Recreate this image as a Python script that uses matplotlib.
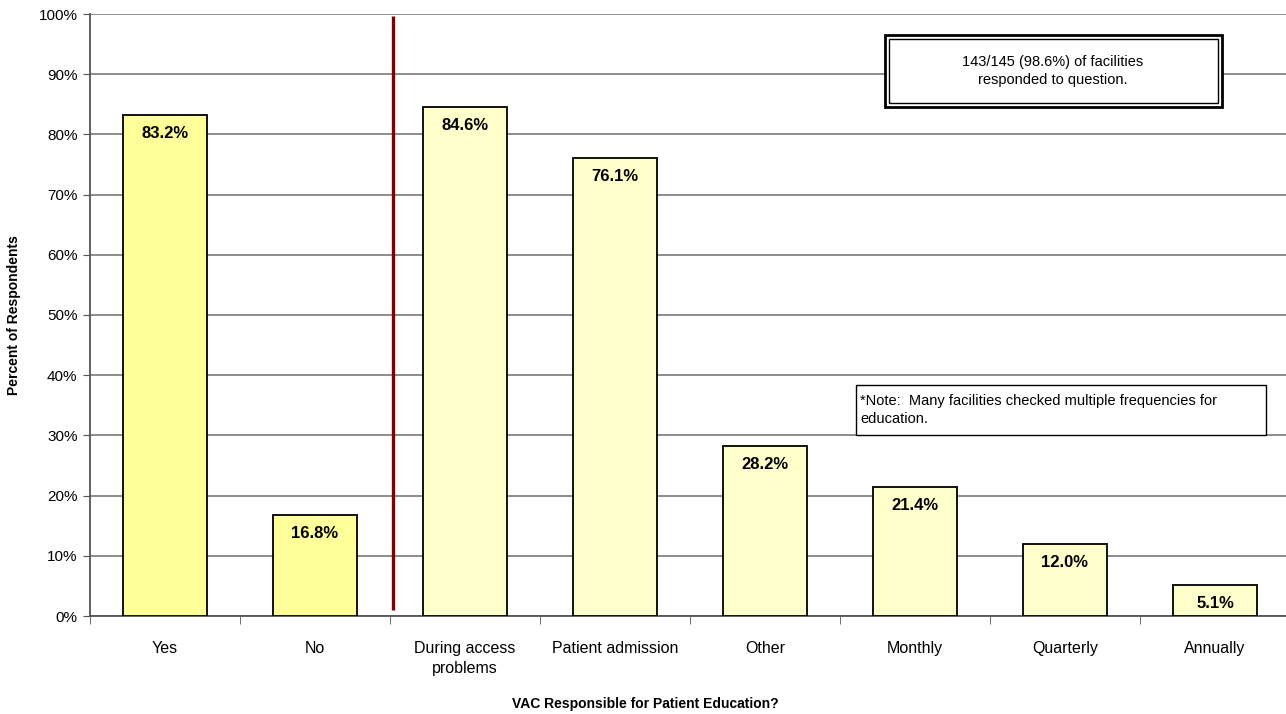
import numpy as np
import matplotlib.pyplot as plt
from matplotlib.patches import Rectangle
from matplotlib.ticker import FuncFormatter

# data
categories = ['Yes', 'No', 'During access\nproblems', 'Patient admission',
              'Other', 'Monthly', 'Quarterly', 'Annually']
values = [83.2, 16.8, 84.6, 76.1, 28.2, 21.4, 12.0, 5.1]
bar_colors = ['#FFFF99', '#FFFF99', '#FFFFCC', '#FFFFCC',
              '#FFFFCC', '#FFFFCC', '#FFFFCC', '#FFFFCC']

plt.rcParams['font.family'] = ['Liberation Sans', 'DejaVu Sans']

W, H = 1286, 714
fig = plt.figure(figsize=(W / 100, H / 100), dpi=100)
ax = fig.add_axes([90 / W, (H - 616) / H, 1200 / W, 602 / H])

x = np.arange(len(categories))
ax.bar(x, values, width=0.56, color=bar_colors, edgecolor='black',
       linewidth=1.3, zorder=3)

for xi, v in zip(x, values):
    ax.annotate('%.1f%%' % v, (xi, v), xytext=(0, -8), textcoords='offset points',
                ha='center', va='top', fontsize=12, fontweight='bold', zorder=4)

# separator between the two questions
ax.plot([1.52, 1.52], [1.0, 99.7], color='#800000', lw=2.4, zorder=5,
        solid_capstyle='butt')

ax.set_xlim(-0.5, 7.5)
ax.set_ylim(0, 100)
ax.set_yticks(np.arange(0, 101, 10))
ax.yaxis.set_major_formatter(FuncFormatter(lambda v, p: '%d%%' % v))
ax.yaxis.grid(True, color='#6e6e6e', lw=1.1, zorder=0)
ax.tick_params(axis='y', labelsize=11, length=5, color='#555555', pad=4)

ax.set_xticks(x)
ax.set_xticklabels(categories, fontsize=11.5, linespacing=1.4)
ax.tick_params(axis='x', which='major', length=0, pad=18)
ax.set_xticks(np.arange(-0.5, 7.6, 1), minor=True)
ax.tick_params(axis='x', which='minor', length=6, color='#555555')

for s in ['top', 'right']:
    ax.spines[s].set_visible(False)
ax.spines['left'].set_color('#555555')
ax.spines['bottom'].set_color('#555555')
ax.spines['left'].set_linewidth(1.3)
ax.spines['bottom'].set_linewidth(1.3)

fig.text(14 / W, 1 - 315 / H, 'Percent of Respondents', rotation=90,
         ha='center', va='center', fontsize=10, fontweight='bold')
fig.text(645 / W, 1 - 704 / H, 'VAC Responsible for Patient Education?',
         ha='center', va='center', fontsize=10, fontweight='bold')

# response box with double border
fig.add_artist(Rectangle((885 / W, 1 - 107 / H), 337 / W, 72 / H,
                         transform=fig.transFigure, facecolor='white',
                         edgecolor='black', lw=2, zorder=6))
fig.add_artist(Rectangle((889 / W, 1 - 103 / H), 329 / W, 64 / H,
                         transform=fig.transFigure, facecolor='white',
                         edgecolor='black', lw=1, zorder=7))
fig.text(1053 / W, 1 - 71 / H, '143/145 (98.6%) of facilities\nresponded to question.',
         ha='center', va='center', fontsize=10.5, linespacing=1.3, zorder=8)

# note box
fig.add_artist(Rectangle((856 / W, 1 - 435 / H), 410 / W, 50 / H,
                         transform=fig.transFigure, facecolor='white',
                         edgecolor='black', lw=1, zorder=6))
fig.text(860 / W, 1 - 410 / H,
         '*Note:  Many facilities checked multiple frequencies for\neducation.',
         ha='left', va='center', fontsize=10.5, linespacing=1.3, zorder=8)

fig.savefig('out.png', dpi=100)
